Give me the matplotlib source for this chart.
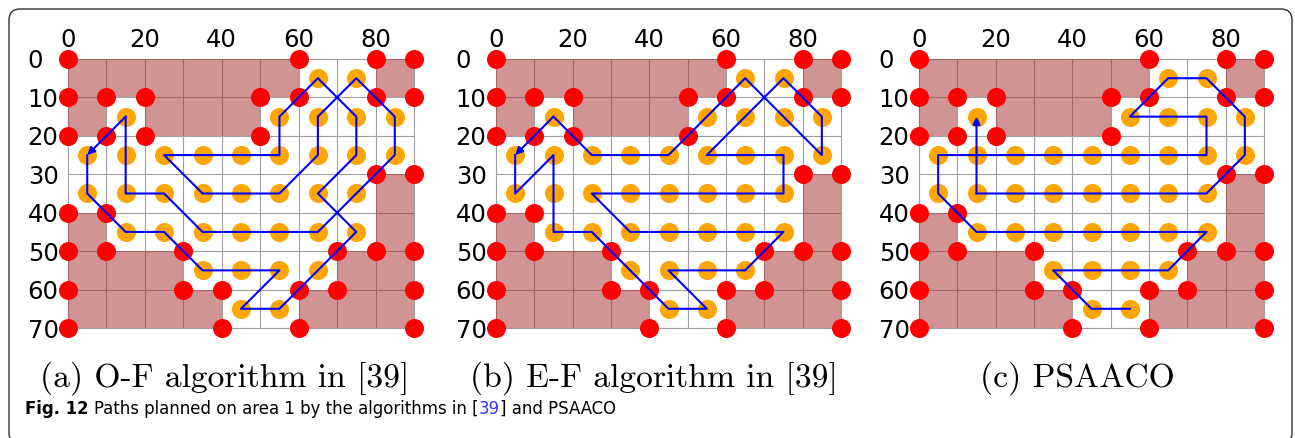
import numpy as np
import matplotlib.pyplot as plt
from matplotlib.patches import Rectangle, FancyBboxPatch
from matplotlib.transforms import IdentityTransform

W, H = 1295, 438

# obstacle cells (column, row) on the 10x10 grid
obst_cols = [0, 1, 2, 3, 4, 5, 8, 0, 2, 3, 4, 8, 0, 8, 0, 1, 2, 7, 8, 0, 1, 2, 3, 6, 7, 8]
obst_rows = [0, 0, 0, 0, 0, 0, 0, 1, 1, 1, 1, 3, 4, 4, 5, 5, 5, 5, 5, 6, 6, 6, 6, 6, 6, 6]

# boundary vertices (red)
red_x = [0, 60, 80, 90, 0, 10, 20, 50, 60, 80, 90, 0, 10, 20, 50, 80, 90, 0, 10,
         0, 10, 30, 70, 80, 90, 0, 30, 40, 60, 70, 90, 0, 40, 60, 90]
red_y = [0, 0, 0, 0, 10, 10, 10, 10, 10, 10, 10, 20, 20, 20, 20, 30, 30, 40, 40,
         50, 50, 50, 50, 50, 50, 60, 60, 60, 60, 60, 60, 70, 70, 70, 70]

# free cell centres (orange)
org_x = [65, 75, 15, 55, 65, 75, 85, 5, 15, 25, 35, 45, 55, 65, 75, 85,
         5, 15, 25, 35, 45, 55, 65, 75, 15, 25, 35, 45, 55, 65, 75, 35, 45, 55, 65, 45, 55]
org_y = [5, 5, 15, 15, 15, 15, 15, 25, 25, 25, 25, 25, 25, 25, 25, 25,
         35, 35, 35, 35, 35, 35, 35, 35, 45, 45, 45, 45, 45, 45, 45, 55, 55, 55, 55, 65, 65]

# planned paths
path_a_x = [5, 5, 15, 25, 35, 55, 45, 55, 75, 65, 75, 75, 65, 55, 55, 25, 35, 55, 65, 65, 75, 85, 85, 65, 35, 25, 15, 15, 5]
path_a_y = [25, 35, 45, 45, 55, 55, 65, 65, 45, 35, 25, 15, 5, 15, 25, 25, 35, 35, 25, 15, 5, 15, 25, 45, 45, 35, 35, 15, 25]
path_b_x = [5, 5, 15, 15, 25, 45, 55, 45, 65, 75, 35, 25, 75, 75, 55, 75, 85, 85, 65, 45, 25, 15, 5]
path_b_y = [25, 35, 25, 45, 45, 65, 65, 55, 55, 45, 45, 35, 35, 25, 25, 5, 15, 25, 5, 25, 25, 15, 25]
path_c_x = [55, 45, 35, 65, 75, 15, 5, 5, 75, 75, 55, 65, 75, 85, 85, 75, 15, 15]
path_c_y = [65, 65, 55, 55, 45, 45, 35, 25, 25, 15, 15, 5, 5, 15, 25, 35, 35, 15]

captions = ['(a) O-F algorithm in [39]', '(b) E-F algorithm in [39]', '(c) PSAACO']
xticks = [0, 20, 40, 60, 80]
yticks = [0, 10, 20, 30, 40, 50, 60, 70]

fig = plt.figure(figsize=(W / 100, H / 100), dpi=100)

def px_axes(l, t, r, b):
    return [l / W, 1 - b / H, (r - l) / W, (b - t) / H]

boxes = [(68, 59, 414, 328), (496, 59, 841, 328), (919, 59, 1264, 328)]
paths = [(path_a_x, path_a_y), (path_b_x, path_b_y), (path_c_x, path_c_y)]
cap_x = [225, 654, 1077]

for box, (px, py), cap, cx in zip(boxes, paths, captions, cap_x):
    ax = fig.add_axes(px_axes(*box))
    ax.set_xlim(0, 90)
    ax.set_ylim(70, 0)
    for s in ax.spines.values():
        s.set_visible(False)
    ax.vlines(np.arange(0, 91, 10), 0, 70, color='#a0a0a0', lw=0.8, zorder=1, clip_on=False)
    ax.hlines(np.arange(0, 71, 10), 0, 90, color='#a0a0a0', lw=0.8, zorder=1, clip_on=False)
    for c, r in zip(obst_cols, obst_rows):
        ax.add_patch(Rectangle((c * 10, r * 10), 10, 10, facecolor='#a52a2a',
                               alpha=0.5, lw=0, zorder=2))
    ax.plot(org_x, org_y, 'o', color='#ffa500', ms=13.7, mew=0, zorder=3, clip_on=False)
    ax.plot(red_x, red_y, 'o', color='#ff0000', ms=13.7, mew=0, zorder=4, clip_on=False)
    ax.plot(px[:-1], py[:-1], color='#0000ff', lw=1.5, zorder=5, clip_on=False)
    ax.annotate('', xy=(px[-1], py[-1]), xytext=(px[-2], py[-2]),
                arrowprops=dict(arrowstyle='-|>', color='#0000ff', lw=1.5,
                                mutation_scale=11, shrinkA=0, shrinkB=0), zorder=6)
    ax.xaxis.tick_top()
    ax.set_xticks(xticks)
    ax.set_yticks(yticks)
    ax.tick_params(axis='x', length=0, pad=5, labelsize=17.5)
    ax.tick_params(axis='y', length=0, pad=29, labelsize=17.5)
    for lab in ax.get_yticklabels():
        lab.set_horizontalalignment('left')
    fig.text(cx / W, 1 - 387 / H, cap, family='cmr10', fontsize=24.2,
             ha='center', va='baseline')

# caption line
cap_y = 1 - 414 / H
fam = ['DejaVu Sans']
t1 = fig.text(25 / W, cap_y, 'Fig. 12', family=fam, stretch='condensed',
              fontsize=13.2, weight='bold', va='baseline')
fig.canvas.draw()
r = fig.canvas.get_renderer()
x = t1.get_window_extent(r).x1 + 6
parts = [('Paths planned on area 1 by the algorithms in [', 'black'), ('39', '#3333ff'),
         ('] and PSAACO', 'black')]
for s, col in parts:
    t = fig.text(x / W, cap_y, s, family=fam, stretch='condensed',
                 fontsize=13.2, color=col, va='baseline')
    x = t.get_window_extent(r).x1

frame = FancyBboxPatch((9, -6), 1283, H - 9 + 6, boxstyle='round,pad=0,rounding_size=11',
                       transform=IdentityTransform(), facecolor='none',
                       edgecolor='#333333', lw=1.0)
fig.patches.append(frame)

fig.savefig('out.png', dpi=100)
